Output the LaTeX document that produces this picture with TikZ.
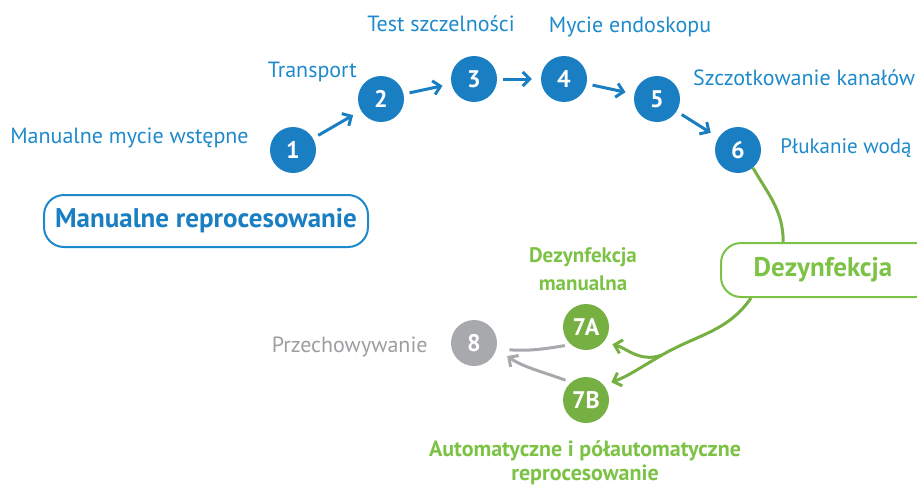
\documentclass[tikz,border=0pt]{standalone}
\usepackage{fontspec}
\setmainfont{PT Sans}
\usetikzlibrary{arrows.meta,positioning}
\definecolor{stepblue}{HTML}{1A7EC2}
\definecolor{textblue}{HTML}{1E8ACB}
\definecolor{stepgreen}{HTML}{76B043}
\definecolor{textgreen}{HTML}{7CC245}
\definecolor{stepgrey}{HTML}{A8A9AD}
\definecolor{textgrey}{HTML}{9D9EA2}

\begin{document}
\begin{tikzpicture}[
  x=1pt, y=-1pt,
  stepnode/.style={circle, minimum size=46pt, inner sep=0pt, text=white, font=\fontsize{24}{24}\selectfont\bfseries},
  bluestep/.style={stepnode, fill=stepblue},
  greenstep/.style={stepnode, fill=stepgreen},
  greystep/.style={stepnode, fill=stepgrey},
  lbl/.style={inner sep=0pt, text=textblue, font=\fontsize{22}{26}\selectfont},
  phasebox/.style={draw, line width=2pt, rounded corners=20pt, inner sep=0pt, minimum height=52pt, font=\fontsize{27}{27}\selectfont\bfseries},
  arr/.style={-{Straight Barb[length=7pt,width=14pt]}, line width=3pt, draw=stepblue, shorten <=6pt, shorten >=9pt},
  garr/.style={-{Straight Barb[length=7pt,width=14pt]}, line width=3pt, draw=stepgreen},
  grarr/.style={line width=3pt, draw=stepgrey},
]
  \clip (0,0) rectangle (917,487);

  % Manual steps
  \node[bluestep] (n1) at (293,150) {1};
  \node[bluestep] (n2) at (381,99) {2};
  \node[bluestep] (n3) at (474,79) {3};
  \node[bluestep] (n4) at (564,79) {4};
  \node[bluestep] (n5) at (657,99) {5};
  \node[bluestep] (n6) at (738,150) {6};

  \node[lbl, left=21pt of n1, yshift=12pt] (l1) {Manualne mycie wstępne};
  \node[lbl, anchor=east] (l2) at (357,72) {Transport};
  \node[lbl] (l3) at (441,24) {Test szczelności};
  \node[lbl] (l4) at (630,27) {Mycie endoskopu};
  \node[lbl, anchor=west] (l5) at (693,78) {Szczotkowanie kanałów};
  \node[lbl, right=19pt of n6, yshift=2pt, font=\fontsize{21}{26}\selectfont] (l6) {Płukanie wodą};

  \draw[arr] (n1) -- (n2);
  \draw[arr] (n2) -- (n3);
  \draw[arr] (n3) -- (n4);
  \draw[arr] (n4) -- (n5);
  \draw[arr] (n5) -- (n6);

  % Phases
  \node[phasebox, draw=textblue, text=stepblue, minimum width=324pt] (manual) at (206,221) {Manualne reprocesowanie};
  \node[phasebox, draw=textgreen, text=textgreen, minimum width=214pt, minimum height=54pt] (dez) at (828,270) {Dezynfekcja\hspace*{10pt}};

  % Disinfection
  \node[greenstep] (n7a) at (586,327) {7A};
  \node[greenstep] (n7b) at (586,400) {7B};
  \node[greystep] (n8) at (474,343) {8};

  \node[lbl, text=textgreen, align=center, font=\fontsize{21}{28}\selectfont\bfseries] (l7a) at (583,269) {Dezynfekcja\\manualna};
  \node[lbl, text=textgreen, align=center, font=\fontsize{22}{24}\selectfont\bfseries, anchor=north] (l7b) at (585,440) {Automatyczne i półautomatyczne\\reprocesowanie};
  \node[lbl, text=textgrey, left=23pt of n8, yshift=-4pt] (l8) {Przechowywanie};

  \coordinate (split) at (662,355);
  \draw[line width=3pt, draw=stepgreen] (n6.-50) to[out=-60, in=90] (dez.148);
  \draw[line width=3pt, draw=stepgreen] (dez.200) to[out=235, in=30] (split);
  \draw[garr, shorten >=9pt] (split) to[out=200, in=-15] (n7a.-40);
  \draw[garr, shorten >=8pt] (split) to[out=210, in=20] (n7b.40);

  % Storage
  \draw[grarr, shorten <=6pt, shorten >=13pt] (n7a.229) to[out=190, in=-5] (n8.-14);
  \draw[grarr, -{Straight Barb[length=7pt,width=14pt]}, shorten <=6pt, shorten >=13pt] (n7b.130) to[out=160, in=-35] (n8.-14);
\end{tikzpicture}
\end{document}
